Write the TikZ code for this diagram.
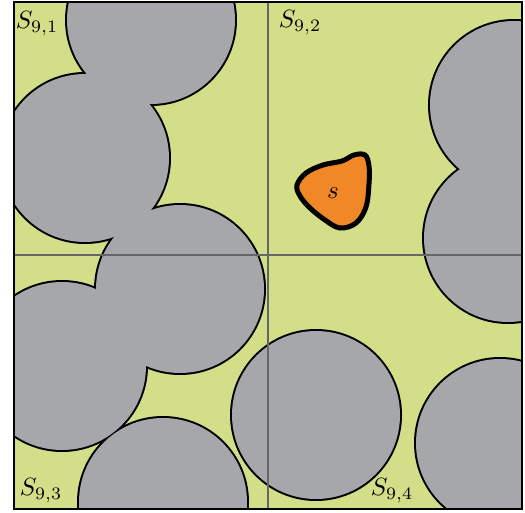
\documentclass[tikz,border=0pt]{standalone}
\usetikzlibrary{positioning}
\definecolor{fieldgreen}{RGB}{211,223,136}
\definecolor{discgrey}{RGB}{166,167,171}
\definecolor{blobor}{RGB}{240,136,40}
\begin{document}
\begin{tikzpicture}[
        x=0.4pt, y=-0.4pt,
        disc/.style={fill=discgrey, draw=none},
        discrim/.style={draw=black, line width=1.6pt},
        gridline/.style={draw=black!60, line width=0.6pt},
        cellname/.style={inner sep=0pt, font=\normalsize},
        blob/.style={fill=blobor, draw=black, line width=2pt},
    ]
    \useasboundingbox (0,0) rectangle (525,512);
    \fill[fieldgreen] (14,2) rectangle (522,509);
    \begin{scope}
        \clip (14,2) rectangle (522,509);
        % outlines first, then fill over them so only the union rim shows
        \foreach \cx/\cy in {151/20, 85/158, 180/289, 62/366, 163/502,
                316/415, 500/443, 514/105, 508/238}
            \draw[discrim] (\cx,\cy) circle (84);
        \foreach \cx/\cy in {151/20, 85/158, 180/289, 62/366, 163/502,
                316/415, 500/443, 514/105, 508/238}
            \path[disc] (\cx,\cy) circle (84);
    \end{scope}
    % cell borders
    \draw[gridline] (268,2) -- (268,509);
    \draw[gridline] (14,255) -- (522,255);
    \draw[line width=1pt] (14,2) rectangle (522,509);
    % the blob
    \draw[blob] plot[smooth cycle, tension=0.6] coordinates {
        (297,185) (306,173) (323,165) (342,161) (354,155) (365,155)
        (369,166) (369,184) (366,207) (356,223) (340,228) (325,220)
        (310,208) (300,196)};
    \node (s) at (333,193) {$s$};
    \node[cellname] (c1) at (37,24) {$S_{9,1}$};
    \node[cellname] (c2) at (300,23) {$S_{9,2}$};
    \node[cellname] (c3) at (41,491) {$S_{9,3}$};
    \node[cellname] (c4) at (392,491) {$S_{9,4}$};
\end{tikzpicture}
\end{document}
